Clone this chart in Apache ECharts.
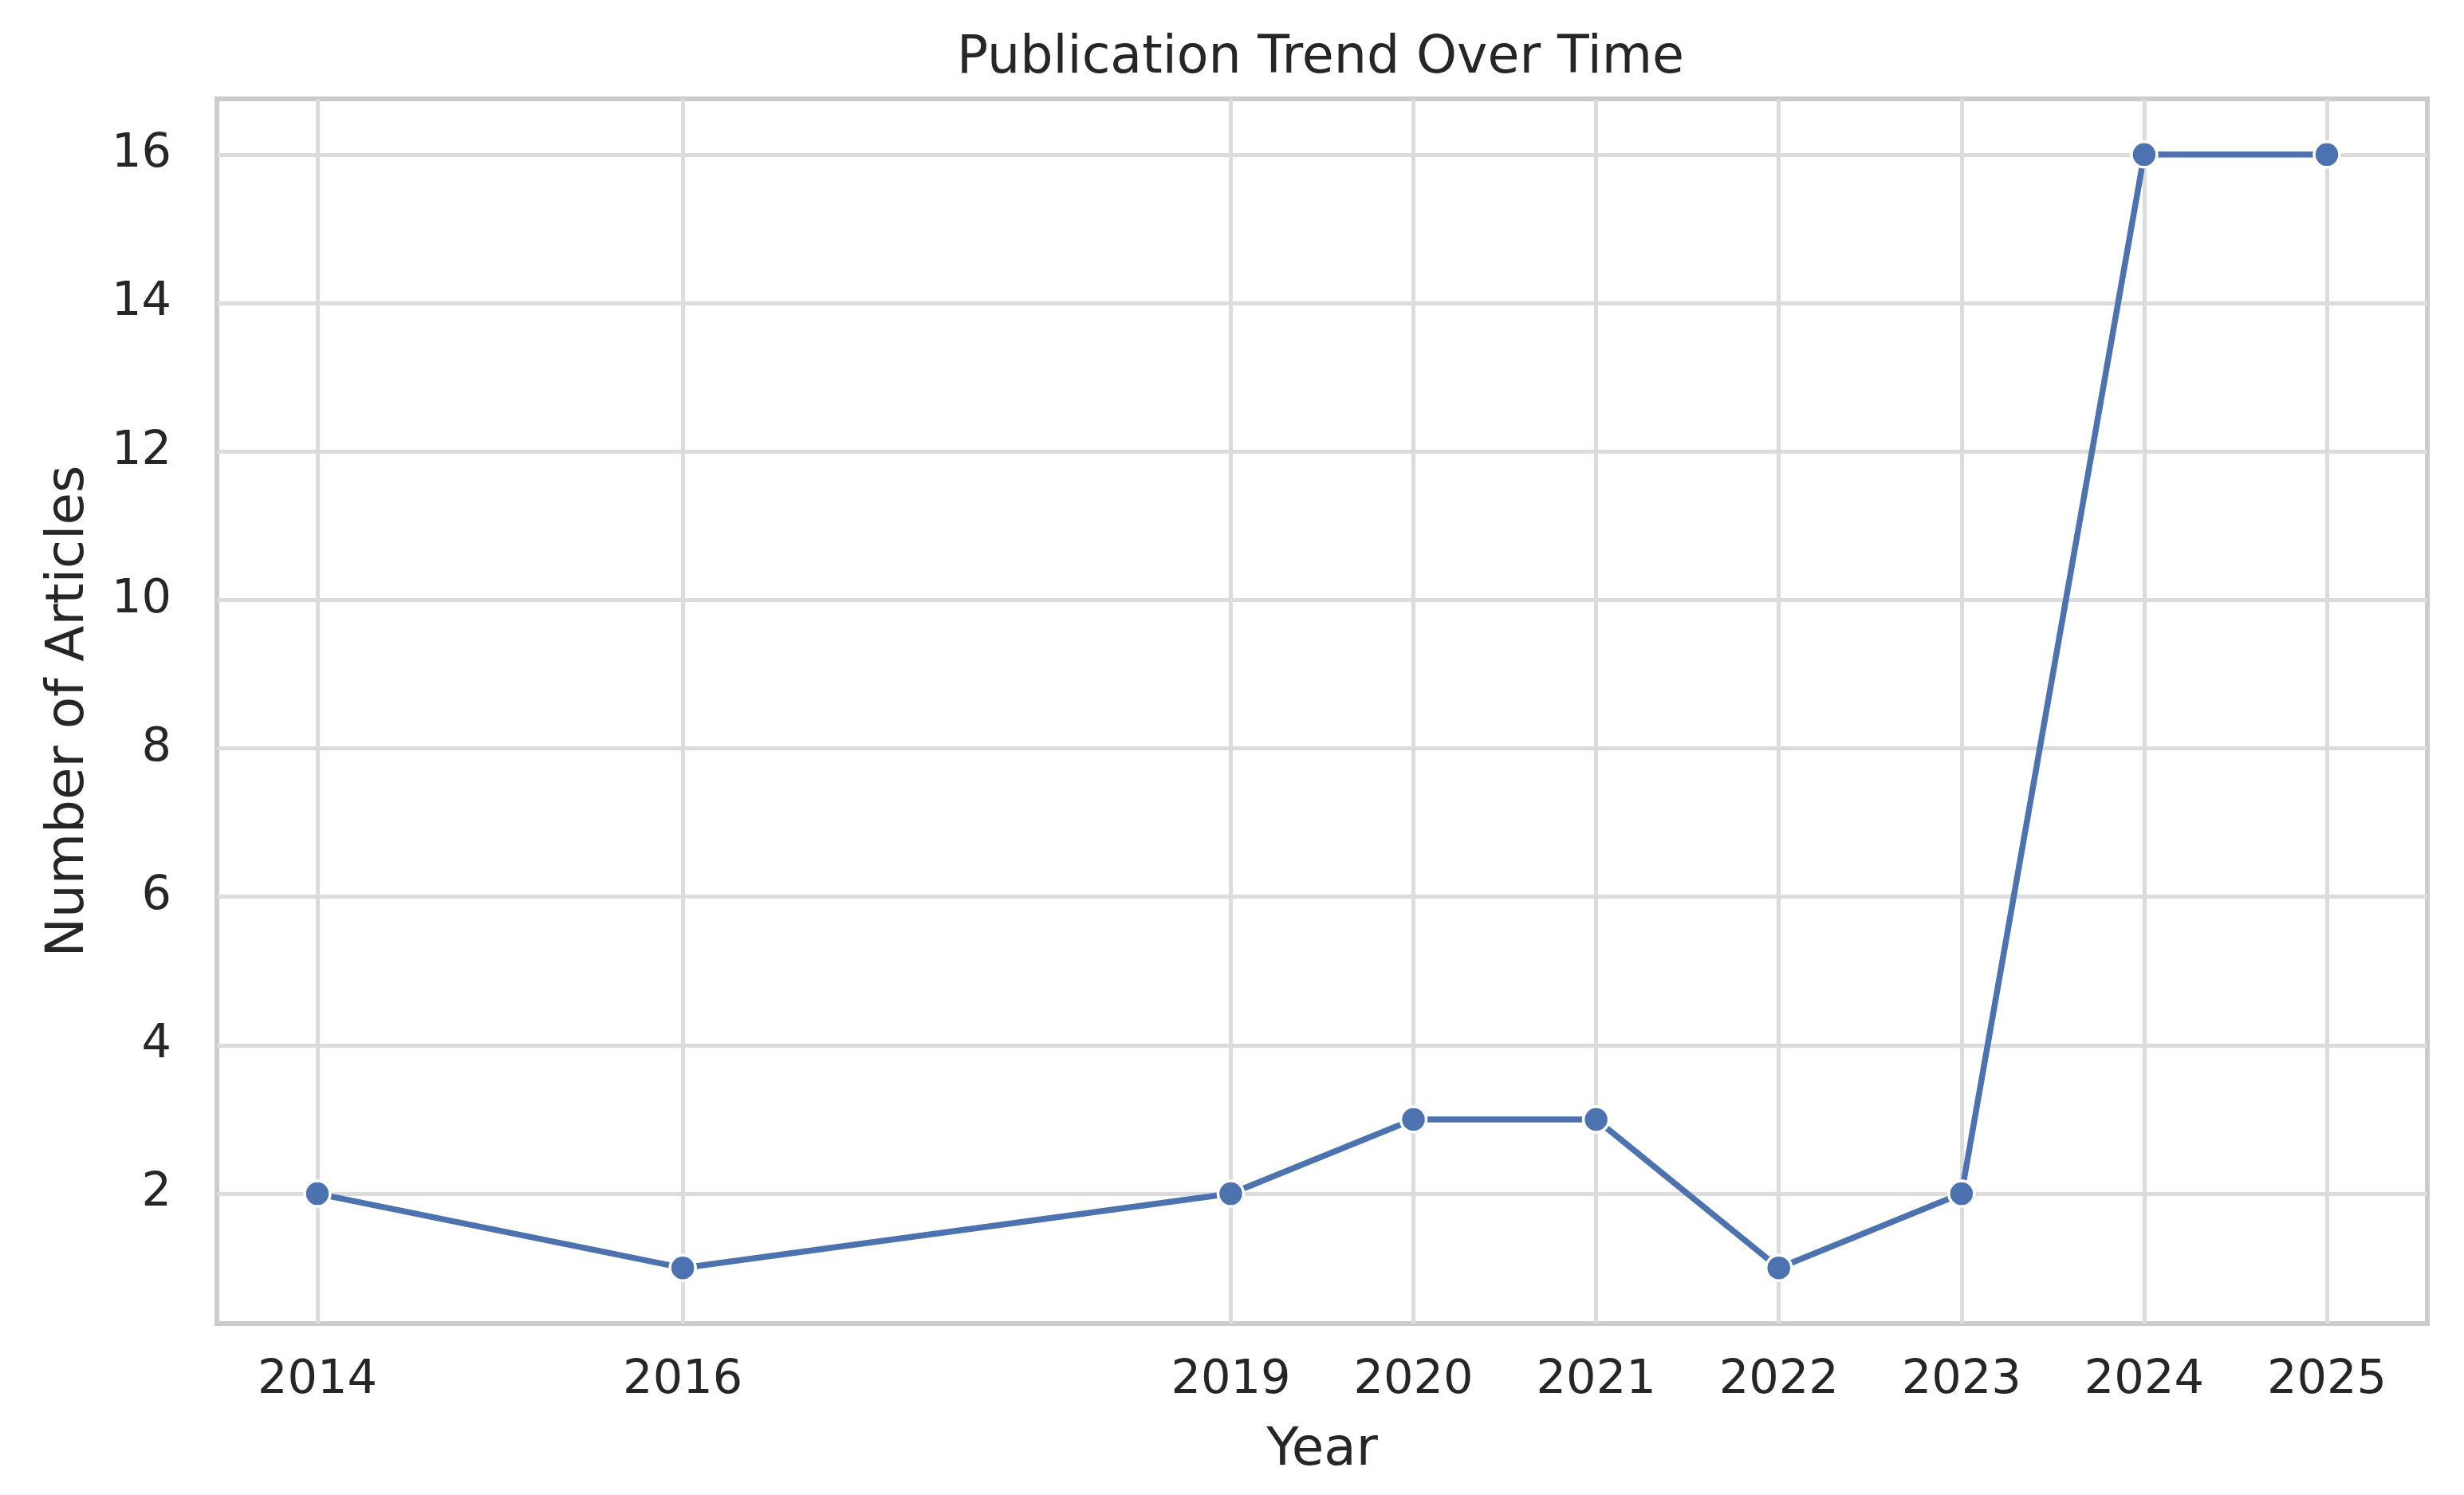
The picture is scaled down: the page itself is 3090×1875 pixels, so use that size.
<!DOCTYPE html>
<html>
<head>
<meta charset="utf-8">
<title>Publication Trend Over Time</title>
<script src="https://cdn.jsdelivr.net/npm/echarts@6/dist/echarts.min.js"></script>
<style>
  html, body {
    margin: 0;
    padding: 0;
    background: #ffffff;
  }
  #chart {
    width: 3090px;
    height: 1875px;
  }
</style>
</head>
<body>
<div id="chart"></div>
<script>
// data
const years = [2014, 2016, 2019, 2020, 2021, 2022, 2023, 2024, 2025];
const articles = [2, 1, 2, 3, 3, 1, 2, 16, 16];
const yTicks = [2, 4, 6, 8, 10, 12, 14, 16];

const textColor = "#262626";
const font = "DejaVu Sans";

let chart = echarts.init(document.getElementById("chart"));

chart.setOption({
  backgroundColor: "#ffffff",
  animation: false,
  title: {
    text: "Publication Trend Over Time",
    left: 1195, // centred over the plot area, not the page
    top: 37,
    textStyle: {
      color: textColor,
      fontFamily: font,
      fontSize: 65,
      fontWeight: "normal"
    }
  },
  grid: {
    left: 272,
    right: 46,
    top: 124,
    bottom: 215,
    show: true, // frame round the plot
    borderColor: "#cccccc",
    borderWidth: 6,
    backgroundColor: "#ffffff"
  },
  xAxis: {
    type: "value",
    min: 2013.45,
    max: 2025.55,
    name: "Year",
    nameLocation: "middle",
    nameGap: 127,
    nameTextStyle: {
      color: textColor,
      fontFamily: font,
      fontSize: 66
    },
    axisLine: { show: false },
    axisTick: { show: false, customValues: years },
    axisLabel: {
      customValues: years,
      margin: 42,
      color: textColor,
      fontFamily: font,
      fontSize: 59,
      formatter: v => String(v)
    },
    splitLine: {
      show: true,
      lineStyle: { color: "#dcdcdc", width: 5 }
    }
  },
  yAxis: {
    type: "value",
    min: 0.25,
    max: 16.75,
    name: "Number of Articles",
    nameLocation: "middle",
    nameGap: 152,
    nameTextStyle: {
      color: textColor,
      fontFamily: font,
      fontSize: 66
    },
    axisLine: { show: false },
    axisTick: { show: false, customValues: yTicks },
    axisLabel: {
      customValues: yTicks,
      margin: 57,
      color: textColor,
      fontFamily: font,
      fontSize: 59
    },
    splitLine: {
      show: true,
      lineStyle: { color: "#dcdcdc", width: 5 }
    }
  },
  series: [
    {
      type: "line",
      data: years.map((y, i) => [y, articles[i]]),
      symbol: "circle",
      symbolSize: 32,
      lineStyle: { color: "#4c72b0", width: 7.5 },
      itemStyle: {
        color: "#4c72b0",
        borderColor: "#ffffff",
        borderWidth: 3.5
      }
    }
  ]
});
</script>
</body>
</html>
